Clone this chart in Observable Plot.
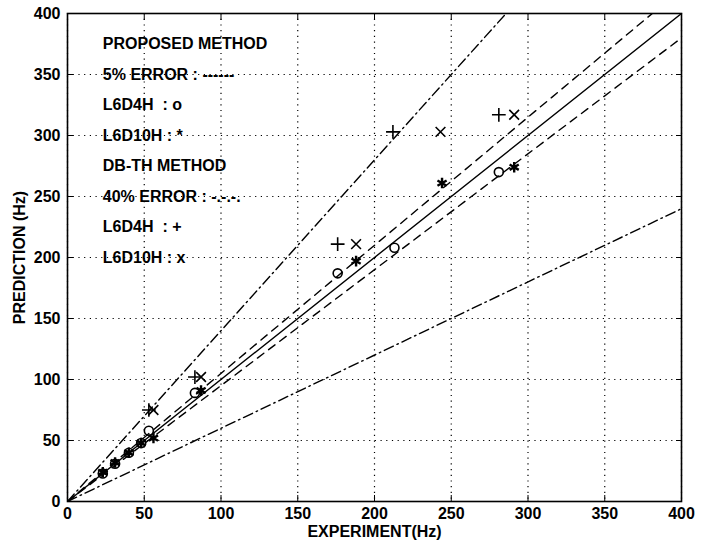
<!DOCTYPE html>
<html>
<head>
<meta charset="utf-8">
<script src="https://cdn.jsdelivr.net/npm/d3@7"></script>
<script src="https://cdn.jsdelivr.net/npm/@observablehq/plot@0.6"></script>
<style>
  html, body { margin: 0; padding: 0; background: #fff; }
  #chart svg { display: block; }
  #chart text { white-space: pre; }
</style>
</head>
<body>
<div id="chart"></div>
<script>
// ---- data ----
const ticks = [0, 50, 100, 150, 200, 250, 300, 350, 400];

// Proposed method
const propD4H_exp  = [23, 31, 40, 48, 53, 83, 176, 213, 281];
const propD4H_pred = [23, 31, 40, 48, 58, 89, 187, 208, 270];
const propD10H_exp  = [23, 31, 40, 48, 56, 87, 188, 244, 291];
const propD10H_pred = [24, 32, 40, 48, 52, 91, 197, 261, 274];

// DB-TH method
const dbD4H_exp  = [53, 83, 176, 212, 281];
const dbD4H_pred = [75, 102, 211, 303, 317];
const dbD10H_exp  = [56, 87, 188, 243, 291];
const dbD10H_pred = [75, 102, 211, 303, 317];

// reference lines: slope and style
const refSlopes = [1, 1.05, 0.95, 1.4, 0.6];
const refDash   = ["none", "8,6", "8,6", "10,4,1.5,4", "10,4,1.5,4"];
const lineEnds  = [0, 400];

// legend text lines (y position in data units)
const legendLines = [
  "PROPOSED METHOD",
  "5% ERROR : ------",
  "L6D4H  : o",
  "L6D10H : *",
  "DB-TH METHOD",
  "40% ERROR : -.-.-.",
  "L6D4H  : +",
  "L6D10H : x"
];
const legendY = [375, 350, 325, 300, 275, 250, 225, 200];
const legendX = 23;

// ---- build ----
const zip = (xs, ys) => xs.map((x, i) => ({x, y: ys[i]}));
const refLines = refSlopes.map((s, i) => ({
  pts: lineEnds.map(x => ({x, y: x * s})),
  dash: refDash[i]
}));
const legend = legendLines.map((t, i) => ({t, x: legendX, y: legendY[i]}));

const chart = Plot.plot({
  width: 712,
  height: 540,
  marginLeft: 67,
  marginRight: 31,
  marginTop: 13,
  marginBottom: 39,
  style: {fontFamily: "'Liberation Sans', Arial, sans-serif", fontSize: "16px", fontWeight: "bold", color: "black", background: "white"},
  x: {domain: [0, 400]},
  y: {domain: [0, 400]},
  marks: [
    Plot.gridX(ticks, {stroke: "black", strokeOpacity: 1, strokeWidth: 1.2, strokeDasharray: "1.2,4.5"}),
    Plot.gridY(ticks, {stroke: "black", strokeOpacity: 1, strokeWidth: 1.2, strokeDasharray: "1.2,4.5"}),
    ...refLines.map(r => Plot.line(r.pts, {x: "x", y: "y", stroke: "black", strokeWidth: 1.4, strokeDasharray: r.dash, clip: true})),
    Plot.dot(zip(propD4H_exp, propD4H_pred), {x: "x", y: "y", symbol: "circle", r: 4.5, stroke: "black", strokeWidth: 1.6, fill: "none"}),
    Plot.dot(zip(propD10H_exp, propD10H_pred), {x: "x", y: "y", symbol: "asterisk", r: 5, stroke: "black", strokeWidth: 2.4}),
    Plot.dot(zip(dbD4H_exp, dbD4H_pred), {x: "x", y: "y", symbol: "plus", r: 4.5, stroke: "black", strokeWidth: 1.6}),
    Plot.dot(zip(dbD10H_exp, dbD10H_pred), {x: "x", y: "y", symbol: "times", r: 4.5, stroke: "black", strokeWidth: 1.6}),
    Plot.text(legend, {x: "x", y: "y", text: "t", textAnchor: "start", fontSize: 16, fontWeight: "bold", fill: "black"}),
    Plot.axisX(ticks, {anchor: "bottom", tickSize: -6, tickPadding: 12, tickFormat: d => String(d), label: "EXPERIMENT(Hz)", labelAnchor: "center", labelArrow: "none", labelOffset: 35}),
    Plot.axisX(ticks, {anchor: "top", tickSize: -6, tickFormat: () => "", label: null}),
    Plot.axisY(ticks, {anchor: "left", tickSize: -6, tickPadding: 13, tickFormat: d => String(d), label: "PREDICTION (Hz)", labelAnchor: "center", labelArrow: "none", labelOffset: 54}),
    Plot.axisY(ticks, {anchor: "right", tickSize: -6, tickFormat: () => "", label: null}),
    Plot.frame({stroke: "black", strokeWidth: 1.6})
  ]
});
document.getElementById("chart").appendChild(chart);
</script>
</body>
</html>
